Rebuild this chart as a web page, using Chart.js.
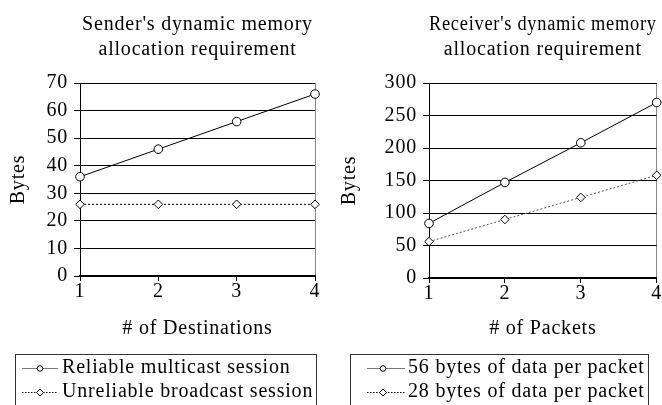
<!DOCTYPE html>
<html>
<head>
<meta charset="utf-8">
<script src="https://cdn.jsdelivr.net/npm/chart.js@4/dist/chart.umd.min.js"></script>
<style>
  html, body { margin: 0; padding: 0; width: 662px; height: 405px; overflow: hidden; background: #fff; }
  canvas { position: absolute; top: 0; }
  #sender { left: 0; }
  #receiver { left: 331px; }
</style>
</head>
<body>
<canvas id="sender" width="331" height="412"></canvas>
<canvas id="receiver" width="331" height="412"></canvas>
<script>
'use strict';

// data
var xLabels = ['1', '2', '3', '4'];

var reliableMulticast = [36, 46, 56, 66];
var unreliableBroadcast = [26, 26, 26, 26];
var senderTicks = [0, 10, 20, 30, 40, 50, 60, 70];

var bytes56 = [84, 147, 208, 270];
var bytes28 = [56, 90, 124, 158];
var receiverTicks = [0, 50, 100, 150, 200, 250, 300];

Chart.defaults.font.family = '"Liberation Serif", "Times New Roman", serif';
Chart.defaults.font.size = 20;
Chart.defaults.color = '#000';

/*
  little legend sample: a line with the marker on it
*/
function makeSample(width, from, to, mx, dashed, marker) {
    var c = document.createElement('canvas');
    c.width = width;
    c.height = 12;
    var g = c.getContext('2d');
    g.lineWidth = 1;
    g.strokeStyle = dashed ? '#000' : '#777';
    if (dashed) g.setLineDash([1.5, 1.5]);
    g.beginPath();
    g.moveTo(from, 6.5);
    g.lineTo(to, 6.5);
    g.stroke();
    g.setLineDash([]);
    g.fillStyle = '#fff';
    g.strokeStyle = '#000';
    g.beginPath();
    if (marker === 'circle') {
        g.arc(mx, 6.5, 2.8, 0, Math.PI * 2);
    } else {
        g.moveTo(mx, 3);
        g.lineTo(mx + 3.5, 6.5);
        g.lineTo(mx, 10);
        g.lineTo(mx - 3.5, 6.5);
        g.closePath();
    }
    g.fill();
    g.stroke();
    return c;
}

var spacing = {
    id: 'spacing',
    beforeUpdate: function(chart) { chart.ctx.letterSpacing = '0.8px'; },
    beforeDraw: function(chart) { chart.ctx.letterSpacing = '0.8px'; }
};

// centre the title on the plot and put a frame round the legend
var frame = {
    id: 'frame',
    afterLayout: function(chart) {
        chart.titleBlock.left = chart.chartArea.left;
        chart.titleBlock.right = chart.chartArea.right;
    },
    afterDraw: function(chart, args, opts) {
        var legend = chart.legend;
        var boxes = legend.legendHitBoxes;
        if (!boxes || !boxes.length) return;
        var left = Infinity, right = -Infinity;
        boxes.forEach(function(b) {
            left = Math.min(left, b.left);
            right = Math.max(right, b.left + b.width);
        });
        var ctx = chart.ctx;
        ctx.save();
        ctx.strokeStyle = '#333';
        ctx.lineWidth = 1;
        ctx.strokeRect(Math.round(left + opts.inset) + 0.5, Math.round(legend.top) + 0.5,
            Math.round(right + 3 - left - opts.inset), chart.height);
        ctx.restore();
    }
};

function makeChart(id, cfg) {
    var first = cfg.ticks[0];
    var last = cfg.ticks[cfg.ticks.length - 1];
    var step = cfg.ticks[1] - cfg.ticks[0];

    return new Chart(document.getElementById(id), {
        type: 'line',
        data: {
            labels: xLabels,
            datasets: [
                {
                    label: cfg.names[0],
                    data: cfg.series[0],
                    borderColor: '#000',
                    borderWidth: 1,
                    pointStyle: 'circle',
                    pointRadius: 4.3,
                    pointBackgroundColor: '#fff',
                    pointBorderColor: '#000',
                    pointBorderWidth: 1,
                    fill: false,
                    tension: 0
                },
                {
                    label: cfg.names[1],
                    data: cfg.series[1],
                    borderColor: cfg.dotColor,
                    borderWidth: 1,
                    borderDash: [2, 2],
                    pointStyle: 'rectRot',
                    pointRadius: 4.3,
                    pointBackgroundColor: '#fff',
                    pointBorderColor: '#000',
                    pointBorderWidth: 1,
                    fill: false,
                    tension: 0
                }
            ]
        },
        options: {
            responsive: false,
            animation: false,
            events: [],
            layout: { padding: { left: 0, right: cfg.padRight, top: 0, bottom: 0 } },
            plugins: {
                title: {
                    display: true,
                    text: cfg.title,
                    font: { size: 20, weight: 'normal', lineHeight: 1.25 },
                    padding: { top: 12.5, bottom: 20.5 }
                },
                legend: {
                    position: 'bottom',
                    align: 'start',
                    labels: {
                        usePointStyle: true,
                        pointStyleWidth: cfg.sampleBox,
                        padding: 4,
                        font: { size: 20 },
                        color: '#000',
                        generateLabels: function() {
                            return cfg.names.map(function(n, i) {
                                return {
                                    text: n,
                                    pointStyle: cfg.samples[i],
                                    datasetIndex: i,
                                    hidden: false,
                                    lineWidth: 0
                                };
                            });
                        }
                    }
                },
                frame: { inset: cfg.frameInset },
                tooltip: { enabled: false }
            },
            scales: {
                x: {
                    offset: false,
                    grid: {
                        drawOnChartArea: true,
                        color: function(c) { return c.index === xLabels.length - 1 ? '#888' : 'rgba(0,0,0,0)'; },
                        tickColor: '#000',
                        tickLength: 5
                    },
                    border: { color: '#000', width: 2 },
                    ticks: { padding: 1, font: { size: 20, lineHeight: 1 }, maxRotation: 0 },
                    title: {
                        display: true,
                        text: cfg.xTitle,
                        font: { size: 20, lineHeight: 1.2 },
                        padding: { top: 0, bottom: 13 }
                    },
                    afterFit: function(scale) {
                        scale.height = cfg.xHeight;
                        scale.paddingLeft = 0;
                        scale.paddingRight = 0;
                    }
                },
                y: {
                    min: first,
                    max: last,
                    grid: { color: '#000', tickColor: '#000', tickLength: 6 },
                    border: { color: '#000', width: 1 },
                    ticks: { stepSize: step, padding: 6, font: { size: 20 } },
                    title: {
                        display: true,
                        text: 'Bytes',
                        font: { size: 20, lineHeight: 1.2 },
                        padding: { top: 7, bottom: 0 }
                    },
                    afterFit: function(scale) {
                        scale.width = cfg.yWidth;
                    }
                }
            }
        },
        plugins: [spacing, frame]
    });
}

makeChart('sender', {
    title: ["Sender's dynamic memory", 'allocation requirement'],
    xTitle: '# of Destinations',
    names: ['Reliable multicast session', 'Unreliable broadcast session'],
    series: [reliableMulticast, unreliableBroadcast],
    ticks: senderTicks,
    samples: [makeSample(60, 24, 60, 42, false, 'circle'), makeSample(60, 24, 60, 42, true, 'diamond')],
    sampleBox: 48,
    frameInset: 11,
    padRight: 16,
    yWidth: 80,
    xHeight: 78,
    dotColor: '#000'
});

makeChart('receiver', {
    title: ["Receiver's dynamic memory", 'allocation requirement'],
    xTitle: '# of Packets',
    names: ['56 bytes of data per packet', '28 bytes of data per packet'],
    series: [bytes56, bytes28],
    ticks: receiverTicks,
    samples: [makeSample(77, 39, 77, 55, false, 'circle'), makeSample(77, 39, 77, 55, true, 'diamond')],
    sampleBox: 63,
    frameInset: 15,
    padRight: 4,
    yWidth: 98,
    xHeight: 76,
    dotColor: '#555'
});
</script>
</body>
</html>
